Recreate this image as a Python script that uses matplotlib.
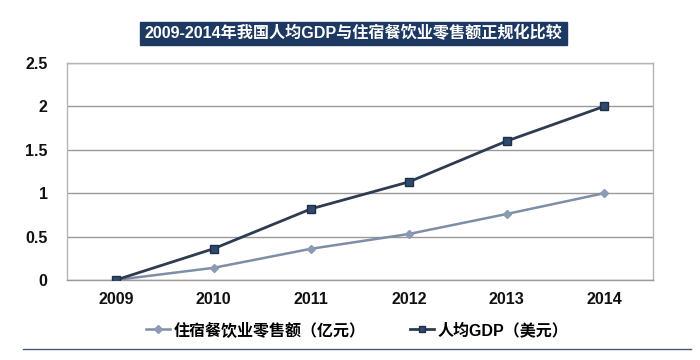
import matplotlib
matplotlib.use("Agg")
import matplotlib.pyplot as plt
from matplotlib.patches import Rectangle
from matplotlib.lines import Line2D

plt.rcParams['font.family'] = ['Liberation Sans', 'Noto Sans CJK SC', 'DejaVu Sans']

years = ['2009', '2010', '2011', '2012', '2013', '2014']
retail = [0, 0.14, 0.36, 0.53, 0.76, 1.0]
gdp = [0, 0.36, 0.82, 1.13, 1.60, 2.0]
yticks = [0, 0.5, 1, 1.5, 2, 2.5]
ytick_labels = ['0', '0.5', '1', '1.5', '2', '2.5']
title = '2009-2014年我国人均GDP与住宿餐饮业零售额正规化比较'
label_retail = '住宿餐饮业零售额（亿元）'
label_gdp = '人均GDP（美元）'

fig = plt.figure(figsize=(7, 3.6), dpi=100)
ax = fig.add_axes([67/700, 1-280/360, (653-67)/700, (280-63)/360])

x = list(range(len(years)))
c_retail = '#7d8ea6'
c_gdp = '#2d3c50'
ax.plot(x, retail, color=c_retail, lw=1.8, marker='D', ms=4,
        mfc='#8a9bb3', mec='#8a9bb3', label=label_retail, zorder=3)
ax.plot(x, gdp, color=c_gdp, lw=2.0, marker='s', ms=6,
        mfc='#2f4a6e', mec='#1f2f45', label=label_gdp, zorder=4)

ax.set_xlim(-0.5, len(years) - 0.5)
ax.set_ylim(0, 2.5)
ax.set_yticks(yticks)
ax.set_yticklabels(ytick_labels)
ax.set_xticks(x)
ax.set_xticklabels(years)
for lab in ax.get_xticklabels() + ax.get_yticklabels():
    lab.set_fontweight('bold')
    lab.set_fontsize(11.5)
    lab.set_color('#111111')
ax.tick_params(axis='both', length=0)
ax.tick_params(axis='y', pad=14)
ax.tick_params(axis='x', pad=9)
ax.grid(axis='y', color='#9a9a9a', lw=1.0)
ax.set_axisbelow(True)
for s in ax.spines.values():
    s.set_color('#b5b5b5')
    s.set_linewidth(1.0)
ax.spines['bottom'].set_color('#9a9a9a')

# title bar
fig.patches.append(Rectangle((140/700, 1-45/360), 427/700, 23/360,
                             transform=fig.transFigure, color='#1d3961', zorder=0))
fig.text(353/700, 1-33.5/360, title, color='white', fontsize=11.6,
         fontweight='bold', ha='center', va='center')

handles = [Line2D([], [], color=c_retail, lw=1.8, marker='D', ms=4,
                  mfc='#8a9bb3', mec='#8a9bb3'),
           Line2D([], [], color=c_gdp, lw=2.0, marker='s', ms=5,
                  mfc='#2f4a6e', mec='#1f2f45')]
leg = fig.legend(handles, [label_retail, label_gdp], loc='center',
                 bbox_to_anchor=(357/700, 1-330/360), ncol=2, frameon=False,
                 handlelength=1.5, handletextpad=0.2, columnspacing=2.8,
                 prop={'size': 11.5, 'weight': 'bold'})

fig.add_artist(Line2D([23/700, 691/700], [1-349/360, 1-349/360],
                      transform=fig.transFigure, color='#4a5a70', lw=1.0))

fig.savefig('out.png', dpi=100, facecolor='white')
